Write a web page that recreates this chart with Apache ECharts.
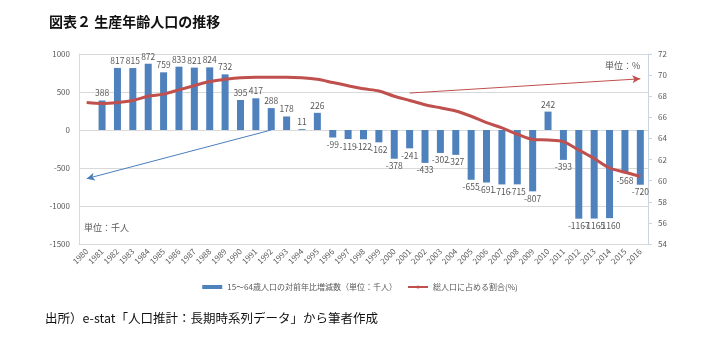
<!DOCTYPE html>
<html>
<head>
<meta charset="utf-8">
<script src="https://cdn.jsdelivr.net/npm/echarts@6/dist/echarts.min.js"></script>
<style>
  html, body { margin: 0; padding: 0; background: #fff; }
  #chart { width: 720px; height: 337px; }
</style>
</head>
<body>
<div id="chart"></div>
<script>
// 年（1980〜2016）
const years = ['1980','1981','1982','1983','1984','1985','1986','1987','1988','1989',
  '1990','1991','1992','1993','1994','1995','1996','1997','1998','1999',
  '2000','2001','2002','2003','2004','2005','2006','2007','2008','2009',
  '2010','2011','2012','2013','2014','2015','2016'];

// 15〜64歳人口の対前年比増減数（千人）
const changeThousands = [null, 388, 817, 815, 872, 759, 833, 821, 824, 732,
  395, 417, 288, 178, 11, 226, -99, -119, -122, -162,
  -378, -241, -433, -302, -327, -655, -691, -716, -715, -807,
  242, -393, -1167, -1165, -1160, -568, -720];

// 総人口に占める割合（%）
const sharePct = [67.4, 67.3, 67.4, 67.6, 68.0, 68.2, 68.6, 69.0, 69.4, 69.6,
  69.75, 69.8, 69.8, 69.8, 69.75, 69.6, 69.3, 69.0, 68.7, 68.5,
  68.0, 67.6, 67.2, 66.9, 66.6, 66.1, 65.5, 65.0, 64.4, 63.9,
  63.85, 63.7, 62.9, 62.1, 61.2, 60.8, 60.4];

const leftTicks = { min: -1500, max: 1000, interval: 500 };
const rightTicks = { min: 54, max: 72, interval: 2 };

const barName = '15～64歳人口の対前年比増減数（単位：千人）';
const lineName = '総人口に占める割合(%)';

const font = '"Noto Sans CJK JP", "Noto Sans", sans-serif';
const gray = '#595959';

const chart = echarts.init(document.getElementById('chart'), null, { renderer: 'canvas' });

const barData = changeThousands.map(v => ({
  value: v,
  label: { position: v !== null && v < 0 ? 'bottom' : 'top' }
}));

chart.setOption({
  animation: false,
  textStyle: { fontFamily: font },
  title: {
    text: '図表２ 生産年齢人口の推移',
    left: 44, top: 10,
    textStyle: { fontSize: 14, fontWeight: 'bold', color: '#111', fontFamily: font }
  },
  grid: { left: 79, right: 72, top: 54, bottom: 93, containLabel: false },
  legend: {
    top: 278, left: 'center',
    itemWidth: 20, itemHeight: 4, itemGap: 10,
    textStyle: { fontSize: 8, color: gray, fontFamily: font },
    data: [
      { name: barName, icon: 'rect' },
      { name: lineName }
    ]
  },
  xAxis: {
    type: 'category',
    data: years,
    axisLine: { onZero: false, lineStyle: { color: '#d9d9d9' } },
    axisTick: { show: false },
    axisLabel: { rotate: 45, fontSize: 8, color: gray, margin: 6, interval: 0 }
  },
  yAxis: [
    {
      type: 'value',
      min: leftTicks.min, max: leftTicks.max, interval: leftTicks.interval,
      axisLine: { show: true, lineStyle: { color: '#d9d9d9' } },
      axisTick: { show: false },
      axisLabel: { fontSize: 8, color: gray, margin: 9, formatter: v => String(v) },
      splitLine: { lineStyle: { color: '#d9d9d9' } }
    },
    {
      type: 'value',
      min: rightTicks.min, max: rightTicks.max, interval: rightTicks.interval,
      position: 'right',
      axisLine: { show: true, lineStyle: { color: '#c9d5e3' } },
      axisTick: { show: true, length: 4, lineStyle: { color: '#c9d5e3' } },
      axisLabel: { fontSize: 8, color: gray, margin: 10 },
      splitLine: { show: false }
    }
  ],
  series: [
    {
      name: barName,
      type: 'bar',
      data: barData,
      barWidth: 7,
      itemStyle: { color: '#4f81bd' },
      label: { show: true, fontSize: 8.5, color: gray, distance: 3 },
      markLine: {
        silent: true,
        symbol: ['none', 'arrow'],
        symbolSize: [6, 8],
        label: { show: false },
        lineStyle: { color: '#4a7ebb', width: 1, type: 'solid' },
        data: [[ { coord: ['1992', 0] }, { coord: ['1980', -640] } ]]
      },
      z: 2
    },
    {
      name: lineName,
      type: 'line',
      yAxisIndex: 1,
      data: sharePct,
      smooth: 0.3,
      symbol: 'none',
      lineStyle: { color: '#c0504d', width: 3 },
      itemStyle: { color: '#c0504d' },
      markLine: {
        silent: true,
        symbol: ['none', 'arrow'],
        symbolSize: [6, 8],
        label: { show: false },
        lineStyle: { color: '#c0504d', width: 1, type: 'solid' },
        data: [[ { coord: ['2001', 68.3] }, { coord: ['2016', 69.65] } ]]
      },
      z: 3
    }
  ],
  graphic: [
    {
      type: 'text', left: 84, top: 223,
      style: { text: '単位：千人', fontSize: 9, fill: gray, fontFamily: font }
    },
    {
      type: 'text', left: 605, top: 61,
      style: { text: '単位：%', fontSize: 9, fill: gray, fontFamily: font }
    },
    {
      type: 'text', left: 45, top: 312,
      style: { text: '出所）e-stat「人口推計：長期時系列データ」から筆者作成', fontSize: 12.5, fill: '#111', fontFamily: font }
    }
  ]
});
</script>
</body>
</html>
